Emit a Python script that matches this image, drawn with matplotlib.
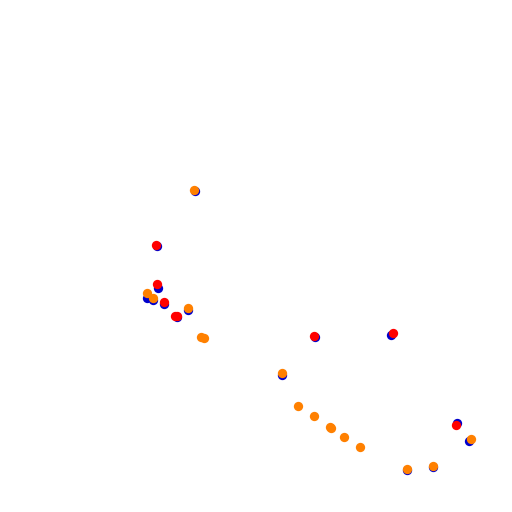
import matplotlib
matplotlib.use("Agg")
import matplotlib.pyplot as plt

# values (x, y in chart units, y grows downward)
blue_x = [195, 157, 158, 147, 153, 164, 188, 177, 315, 391, 282, 457, 469, 407, 433]
blue_y = [191, 246, 288, 298, 300, 304, 310, 317, 337, 335, 375, 423, 441, 470, 467]
red_x = [156, 157, 164, 177, 175, 314, 393, 456]
red_y = [245, 284, 302, 316, 316, 336, 333, 425]
orange_x = [194, 147, 153, 188, 201, 204, 282, 298, 314, 330, 331, 344, 360, 471, 407, 433]
orange_y = [190, 293, 298, 308, 337, 338, 373, 406, 416, 427, 428, 437, 447, 439, 469, 466]

fig = plt.figure(figsize=(5.12, 5.12), dpi=100)
ax = fig.add_axes([0, 0, 1, 1])
ax.scatter(blue_x, blue_y, s=45, color="#0000cc", linewidths=0)
ax.scatter(red_x, red_y, s=45, color="#ff0000", linewidths=0)
ax.scatter(orange_x, orange_y, s=45, color="#ff8000", linewidths=0)
ax.set_xlim(0, 512)
ax.set_ylim(512, 0)
ax.axis("off")
fig.savefig("out.png")
